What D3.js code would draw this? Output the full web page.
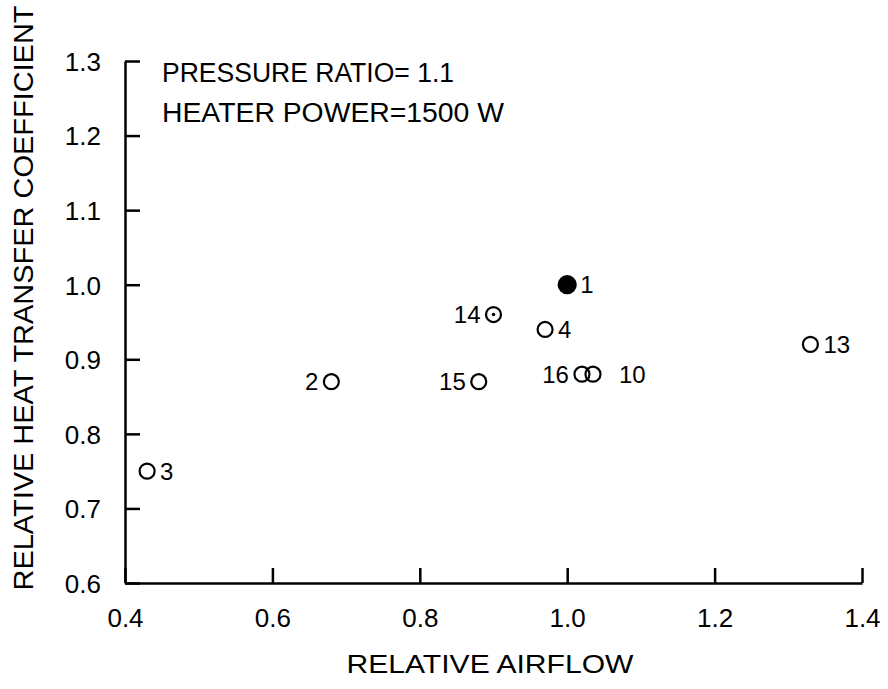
<!DOCTYPE html>
<html>
<head>
<meta charset="utf-8">
<script src="https://cdn.jsdelivr.net/npm/d3@7"></script>
<style>
  body { margin: 0; background: #fff; }
  svg text { font-family: "Liberation Sans", Arial, sans-serif; fill: #000; }
</style>
</head>
<body>
<svg width="888" height="689"></svg>
<script>
// run numbers and values
var runs    = ["1", "2", "3", "4", "10", "13", "14", "15", "16"];
var airflow = [1.00, 0.68, 0.43, 0.97, 1.035, 1.33, 0.90, 0.88, 1.02];
var htc     = [1.00, 0.87, 0.75, 0.94, 0.88, 0.92, 0.96, 0.87, 0.88];
var marker  = ["filled", "open", "open", "open", "open", "open", "dotted", "open", "open"];

var xTicks = [0.4, 0.6, 0.8, 1.0, 1.2, 1.4];
var yTicks = [0.6, 0.7, 0.8, 0.9, 1.0, 1.1, 1.2, 1.3];

var notes = ["PRESSURE RATIO= 1.1", "HEATER POWER=1500 W"];

var svg = d3.select("svg");

var x = d3.scaleLinear().domain([0.4, 1.4]).range([125, 862]);
var y = d3.scaleLinear().domain([0.6, 1.3]).range([583, 61]);

// axes, ticks drawn inward
var xAxis = d3.axisBottom(x).tickValues(xTicks).tickSizeInner(-15).tickSizeOuter(0)
    .tickPadding(36).tickFormat(d3.format(".1f"));
var yAxis = d3.axisLeft(y).tickValues(yTicks).tickSizeInner(-15).tickSizeOuter(0)
    .tickPadding(24).tickFormat(d3.format(".1f"));

var gx = svg.append("g").attr("transform", "translate(0," + y(0.6) + ")").call(xAxis);
var gy = svg.append("g").attr("transform", "translate(" + x(0.4) + ",0)").call(yAxis);

[gx, gy].forEach(function(g) {
  g.select(".domain").attr("stroke", "#000").attr("stroke-width", 2.5);
  g.selectAll(".tick line").attr("stroke", "#000").attr("stroke-width", 2.5);
  g.selectAll(".tick text").style("font-size", "26px").attr("fill", "#000");
});
gy.selectAll(".tick text").attr("dy", "0.36em");
gx.selectAll(".tick text").attr("dy", "0.3em");

// axis titles
svg.append("text")
  .attr("x", 490).attr("y", 673)
  .attr("text-anchor", "middle")
  .style("font-size", "25px")
  .attr("textLength", 287).attr("lengthAdjust", "spacingAndGlyphs")
  .text("RELATIVE AIRFLOW");

svg.append("text")
  .attr("transform", "translate(33,298) rotate(-90)")
  .attr("text-anchor", "middle")
  .style("font-size", "27px")
  .attr("textLength", 585).attr("lengthAdjust", "spacingAndGlyphs")
  .text("RELATIVE HEAT TRANSFER COEFFICIENT");

// condition notes
svg.selectAll(".note")
  .data(notes)
  .enter().append("text")
  .attr("class", "note")
  .attr("x", 162)
  .attr("y", function(d, i) { return 82 + i * 40; })
  .style("font-size", "27px")
  .attr("textLength", function(d, i) { return i === 0 ? 292 : 342; })
  .attr("lengthAdjust", "spacingAndGlyphs")
  .text(function(d) { return d; });

// points
var pts = runs.map(function(r, i) {
  return { run: r, x: airflow[i], y: htc[i], type: marker[i] };
});
var leftLabel = { "2": 1, "14": 1, "15": 1, "16": 1 };

var g = svg.append("g");
g.selectAll("circle.pt")
  .data(pts)
  .enter().append("circle")
  .attr("class", "pt")
  .attr("cx", function(d) { return x(d.x); })
  .attr("cy", function(d) { return y(d.y); })
  .attr("r", function(d) { return d.type === "filled" ? 8.5 : 7.5; })
  .attr("fill", function(d) { return d.type === "filled" ? "#000" : "none"; })
  .attr("stroke", "#000")
  .attr("stroke-width", 2.2);

g.selectAll("circle.dot")
  .data(pts.filter(function(d) { return d.type === "dotted"; }))
  .enter().append("circle")
  .attr("class", "dot")
  .attr("cx", function(d) { return x(d.x); })
  .attr("cy", function(d) { return y(d.y); })
  .attr("r", 1.8)
  .attr("fill", "#000");

g.selectAll("text.lbl")
  .data(pts)
  .enter().append("text")
  .attr("class", "lbl")
  .attr("x", function(d) {
    if (leftLabel[d.run]) return x(d.x) - 13;
    return x(d.x) + (d.run === "10" ? 26 : 13);
  })
  .attr("y", function(d) { return y(d.y); })
  .attr("dy", "0.36em")
  .attr("text-anchor", function(d) { return leftLabel[d.run] ? "end" : "start"; })
  .style("font-size", "24px")
  .text(function(d) { return d.run; });
</script>
</body>
</html>
